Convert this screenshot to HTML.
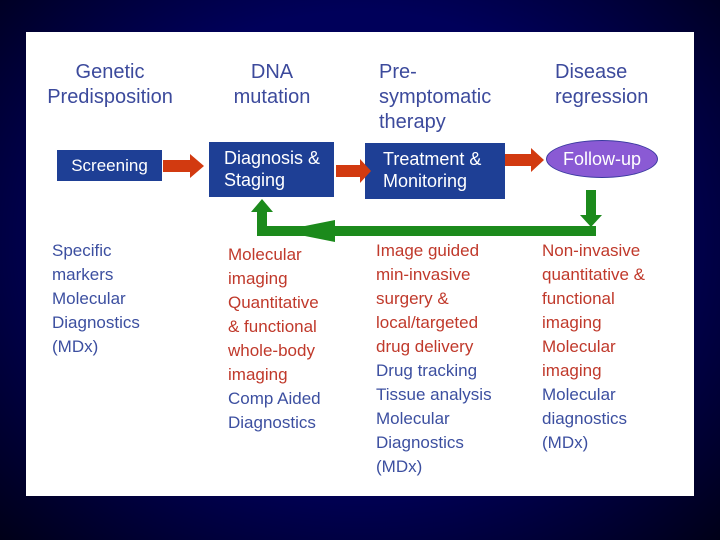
<!DOCTYPE html>
<html><head><style>
body{margin:0;width:720px;height:540px;overflow:hidden;background:radial-gradient(ellipse at 50% 45%,#00005a 55%,#000018 100%);font-family:"Liberation Sans",sans-serif;}
#p{position:absolute;left:26px;top:32px;width:668px;height:464px;background:#fff;}
.t{position:absolute;font-size:20px;line-height:25px;color:#3c4a9c;text-align:center;}
.l{position:absolute;font-size:17px;line-height:24px;}
.b{color:#3c4fa0}.r{color:#c0392b}
.box{position:absolute;background:#1e3f95;color:#fff;font-size:17px;line-height:22px;}
</style></head><body>
<div id="p"></div>
<div class="t" style="left:38px;top:60px;width:144px">Genetic<br>Predisposition</div>
<div class="t" style="left:222px;top:60px;width:100px">DNA<br>mutation</div>
<div class="t" style="left:379px;top:60px;text-align:left">Pre-<br>symptomatic<br>therapy</div>
<div class="t" style="left:555px;top:60px;text-align:left">Disease<br>regression</div>

<div class="box" style="left:57px;top:150px;width:105px;height:31px;line-height:31px;text-align:center">Screening</div>
<div class="box" style="left:209px;top:142px;width:125px;height:55px;padding:0 0 0 15px;box-sizing:border-box;padding-top:5px;font-size:18px">Diagnosis &amp;<br>Staging</div>
<div class="box" style="left:365px;top:143px;width:140px;height:56px;box-sizing:border-box;padding:5px 0 0 18px;font-size:18px">Treatment &amp;<br>Monitoring</div>
<div style="position:absolute;left:546px;top:140px;width:112px;height:38px;border-radius:50%;background:#8a5ad4;border:1px solid #3a3aa0;box-sizing:border-box;color:#fff;font-size:18px;line-height:36px;text-align:center">Follow-up</div>

<svg style="position:absolute;left:0;top:0" width="720" height="540">
<g fill="#d23a10">
<polygon points="163,160 190,160 190,154 204,166 190,178 190,172 163,172"/>
<polygon points="336,165 360,165 360,159 371,171 360,183 360,177 336,177"/>
<polygon points="505,154 531,154 531,148 544,160 531,172 531,166 505,166"/>
</g>
<g fill="#1c8a1c">
<polygon points="586,190 596,190 596,215 602,215 591,227 580,215 586,215"/>
<rect x="258" y="226" width="338" height="10"/>
<polygon points="335,220 335,242 280,231"/>
<polygon points="257,236 267,236 267,212 273,212 262,199 251,212 257,212"/>
</g>
</svg>

<div class="l b" style="left:52px;top:239px">Specific<br>markers<br>Molecular<br>Diagnostics<br>(MDx)</div>
<div class="l" style="left:228px;top:243px"><span class="r">Molecular<br>imaging<br>Quantitative<br>&amp; functional<br>whole-body<br>imaging</span><br><span class="b">Comp Aided<br>Diagnostics</span></div>
<div class="l" style="left:376px;top:239px"><span class="r">Image guided<br>min-invasive<br>surgery &amp;<br>local/targeted<br>drug delivery</span><br><span class="b">Drug tracking<br>Tissue analysis<br>Molecular<br>Diagnostics<br>(MDx)</span></div>
<div class="l" style="left:542px;top:239px"><span class="r">Non-invasive<br>quantitative &amp;<br>functional<br>imaging<br>Molecular<br>imaging</span><br><span class="b">Molecular<br>diagnostics<br>(MDx)</span></div>
</body></html>
